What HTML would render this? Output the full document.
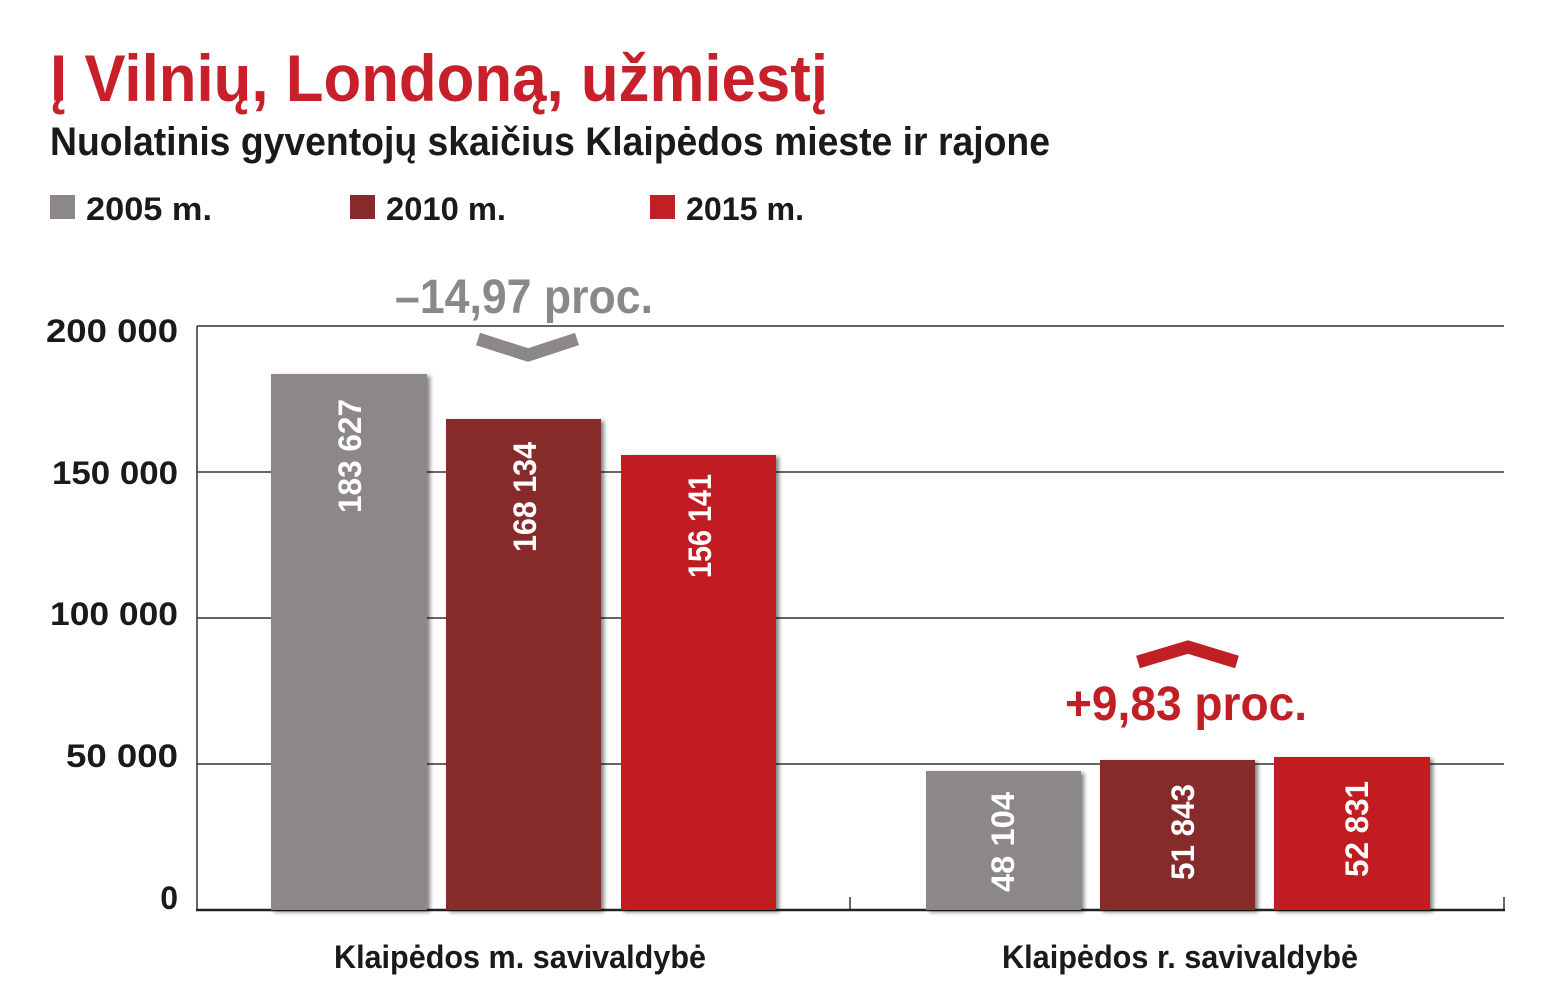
<!DOCTYPE html>
<html><head><meta charset="utf-8"><style>
html,body{margin:0;padding:0;background:#fff;}
svg{display:block;}
text{font-family:"Liberation Sans",sans-serif;font-weight:bold;}
</style></head><body>
<svg width="1543" height="1008" viewBox="0 0 1543 1008" xmlns="http://www.w3.org/2000/svg">
<defs><filter id="sh" x="-10%" y="-10%" width="130%" height="130%"><feGaussianBlur in="SourceAlpha" stdDeviation="2"/><feOffset dx="3" dy="2"/><feComponentTransfer><feFuncA type="linear" slope="0.5"/></feComponentTransfer><feMerge><feMergeNode/><feMergeNode in="SourceGraphic"/></feMerge></filter></defs>
<text x="50" y="101" font-size="66" fill="#c8202a" textLength="778" lengthAdjust="spacingAndGlyphs">Į Vilnių, Londoną, užmiestį</text>
<text x="50" y="155" font-size="40" fill="#1a1a1a" textLength="1000" lengthAdjust="spacingAndGlyphs">Nuolatinis gyventojų skaičius Klaipėdos mieste ir rajone</text>
<rect x="50" y="195" width="25" height="24" fill="#8c8888"/>
<text x="86" y="220" font-size="32" fill="#1a1a1a" textLength="126" lengthAdjust="spacingAndGlyphs">2005 m.</text>
<rect x="350" y="195" width="25" height="24" fill="#862a2c"/>
<text x="386" y="220" font-size="32" fill="#1a1a1a" textLength="120" lengthAdjust="spacingAndGlyphs">2010 m.</text>
<rect x="650" y="195" width="25" height="24" fill="#c01f24"/>
<text x="686" y="220" font-size="32" fill="#1a1a1a" textLength="118" lengthAdjust="spacingAndGlyphs">2015 m.</text>
<g stroke="#333" stroke-width="1.5">
<line x1="197" y1="326" x2="1504" y2="326"/>
<line x1="197" y1="472" x2="1504" y2="472"/>
<line x1="197" y1="618" x2="1504" y2="618"/>
<line x1="197" y1="764" x2="1504" y2="764"/>
<line x1="197" y1="326" x2="197" y2="910"/>
<line x1="850" y1="897" x2="850" y2="910"/>
<line x1="1504" y1="897" x2="1504" y2="910"/>
</g>
<line x1="196" y1="910" x2="1505" y2="910" stroke="#222" stroke-width="2.5"/>
<g font-size="32" fill="#1a1a1a">
<text x="46" y="342" textLength="132" lengthAdjust="spacingAndGlyphs">200 000</text>
<text x="52" y="484" textLength="126" lengthAdjust="spacingAndGlyphs">150 000</text>
<text x="50" y="625" textLength="128" lengthAdjust="spacingAndGlyphs">100 000</text>
<text x="66" y="767" textLength="112" lengthAdjust="spacingAndGlyphs">50 000</text>
<text x="178" y="909" text-anchor="end">0</text>
</g>
<g filter="url(#sh)">
<rect x="271" y="374" width="156" height="536" fill="#8c8888"/>
<rect x="446" y="419" width="155" height="491" fill="#862a2c"/>
<rect x="621" y="455" width="155" height="455" fill="#c01f24"/>
<rect x="926" y="771" width="155" height="139" fill="#8c8888"/>
<rect x="1100" y="760" width="155" height="150" fill="#862a2c"/>
<rect x="1274" y="757" width="156" height="153" fill="#c01f24"/>
</g>
<g font-size="32" fill="#fff" text-anchor="middle">
<text transform="translate(361,456) rotate(-90)" textLength="114" lengthAdjust="spacingAndGlyphs">183 627</text>
<text transform="translate(536,497) rotate(-90)" textLength="110" lengthAdjust="spacingAndGlyphs">168 134</text>
<text transform="translate(711,526) rotate(-90)" textLength="104" lengthAdjust="spacingAndGlyphs">156 141</text>
<text transform="translate(1014,842) rotate(-90)" textLength="100" lengthAdjust="spacingAndGlyphs">48 104</text>
<text transform="translate(1194,832) rotate(-90)" textLength="96" lengthAdjust="spacingAndGlyphs">51 843</text>
<text transform="translate(1368,829) rotate(-90)" textLength="96" lengthAdjust="spacingAndGlyphs">52 831</text>
</g>
<text x="395" y="313" font-size="48" fill="#8c8888" textLength="258" lengthAdjust="spacingAndGlyphs">–14,97 proc.</text>
<polyline points="478,339 528,355 577,339" fill="none" stroke="#8c8888" stroke-width="13"/>
<text x="1065" y="720" font-size="48" fill="#c01f24" textLength="242" lengthAdjust="spacingAndGlyphs">+9,83 proc.</text>
<polyline points="1138,662 1188,647 1237,662" fill="none" stroke="#c01f24" stroke-width="13"/>
<g font-size="32" fill="#1a1a1a" text-anchor="middle">
<text x="520" y="968" textLength="372" lengthAdjust="spacingAndGlyphs">Klaipėdos m. savivaldybė</text>
<text x="1180" y="968" textLength="356" lengthAdjust="spacingAndGlyphs">Klaipėdos r. savivaldybė</text>
</g>
</svg>
</body></html>
